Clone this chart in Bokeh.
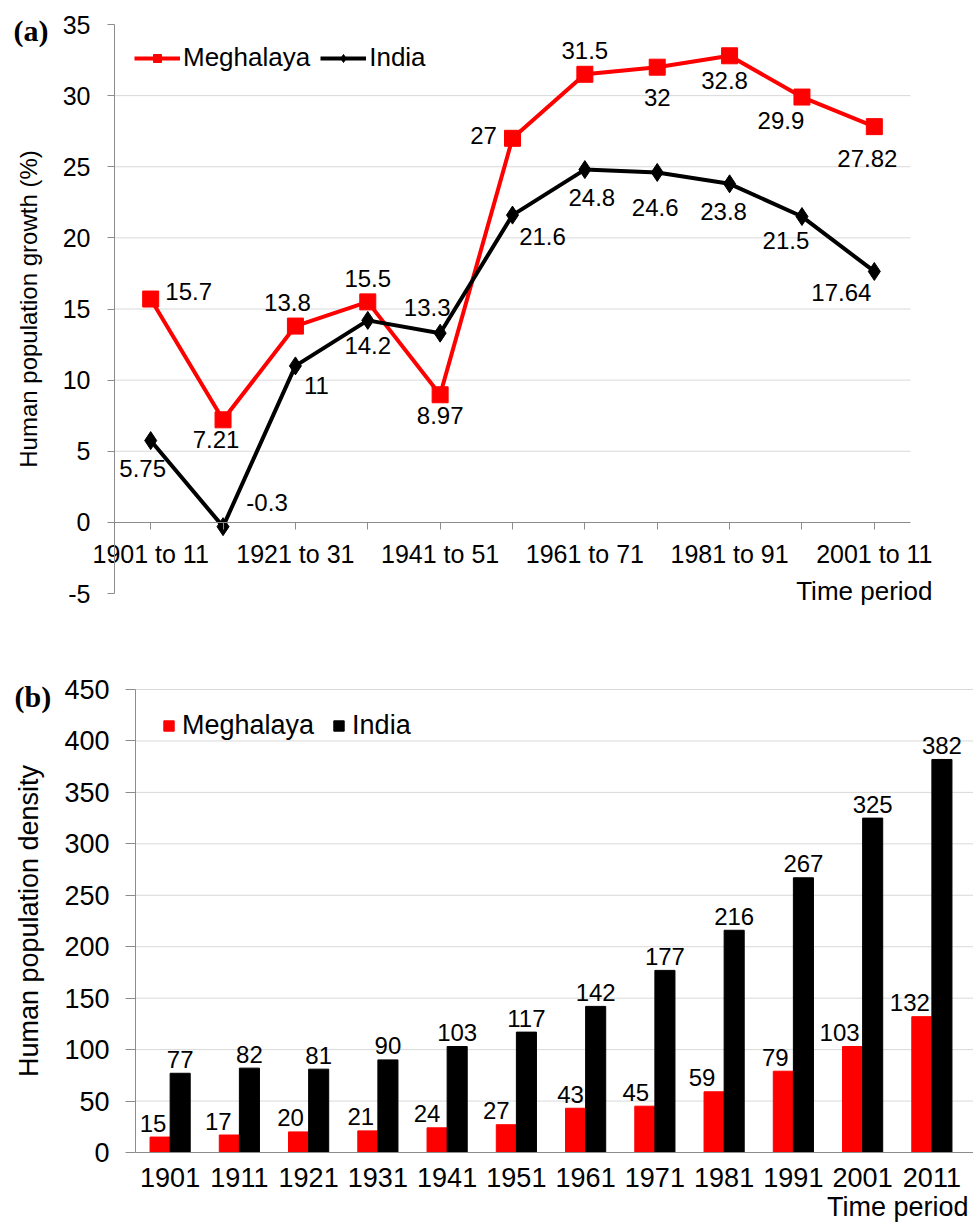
from bokeh.plotting import figure
from bokeh.models import FixedTicker, Label, Range1d, ColumnDataSource
from bokeh.layouts import column
from bokeh.embed import file_html
from bokeh.resources import INLINE

# ---------------- data ----------------
periods = ["1901 to 11", "1911 to 21", "1921 to 31", "1931 to 41", "1941 to 51",
           "1951 to 61", "1961 to 71", "1971 to 81", "1981 to 91", "1991 to 01",
           "2001 to 11"]
meg_growth = [15.7, 7.21, 13.8, 15.5, 8.97, 27, 31.5, 32, 32.8, 29.9, 27.82]
ind_growth = [5.75, -0.3, 11, 14.2, 13.3, 21.6, 24.8, 24.6, 23.8, 21.5, 17.64]

years = ["1901", "1911", "1921", "1931", "1941", "1951", "1961", "1971",
         "1981", "1991", "2001", "2011"]
meg_density = [15, 17, 20, 21, 24, 27, 43, 45, 59, 79, 103, 132]
ind_density = [77, 82, 81, 90, 103, 117, 142, 177, 216, 267, 325, 382]

growth_ticks = [-5, 0, 5, 10, 15, 20, 25, 30, 35]
density_ticks = [0, 50, 100, 150, 200, 250, 300, 350, 400, 450]

# label placement (pixel offsets, positive = down)
meg_dx = [38, -7, -8, 0, 0, -29, 0, 0, -5, -21, -7]
meg_dy = [-8, 20, -24, -23, 21, -3, -24, 30, 25, 23, 32]
ind_dx = [-8, 44, 21, 0, -13, 30, 7, -2, -6, -16, -33]
ind_dy = [28, -24, 20, 25, -26, 21, 28, 35, 28, 24, 21]
meg_bar_dx = [-7, -11, -8, -7, -10, -10, -5, -9, -12, -8, -13, -12]

FONT = "Liberation Sans"
SERIF = "Liberation Serif"
RED = "#FF0000"
BLACK = "#000000"
AXIS_GREY = "#8c8c8c"
GRID_GREY = "#d9d9d9"

W = 973


def frame_ranges(w, h, box_px, box_data):
    """Ranges so that the data box lands on the given pixel box of a
    figure whose frame is the whole canvas; returns px->data helpers too."""
    L, R, T, B = box_px
    x0, x1, y0, y1 = box_data
    sx = (R - L) / (x1 - x0)
    sy = (B - T) / (y1 - y0)
    xr = Range1d(x0 - L / sx, x1 + (w - R) / sx)
    yr = Range1d(y0 - (h - B) / sy, y1 + T / sy)
    return xr, yr, (lambda px: x0 + (px - L) / sx), (lambda py: y1 - (py - T) / sy)


def style_axis(ax, size, tick_out, standoff):
    ax.minor_tick_line_color = None
    ax.major_tick_out = tick_out
    ax.major_tick_in = 0
    ax.axis_line_color = AXIS_GREY
    ax.major_tick_line_color = AXIS_GREY if tick_out else None
    ax.major_label_text_font = FONT
    ax.major_label_text_font_size = size
    ax.major_label_text_color = BLACK
    ax.major_label_standoff = standoff


# ---------------- panel (a) ----------------
HA = 640
xs = list(range(len(periods)))
xr_a, yr_a, pxa, pya = frame_ranges(W, HA, (114, 910, 24, 593),
                                    (-0.5, len(periods) - 0.5, growth_ticks[0], growth_ticks[-1]))

src_a = ColumnDataSource(dict(
    x=xs, meg=meg_growth, ind=ind_growth,
    meg_txt=[f"{v:g}" for v in meg_growth], ind_txt=[f"{v:g}" for v in ind_growth],
    meg_dx=meg_dx, meg_dy=meg_dy, ind_dx=ind_dx, ind_dy=ind_dy))

pa = figure(width=W, height=HA, output_backend="svg", toolbar_location=None,
            x_range=xr_a, y_range=yr_a,
            min_border_left=0, min_border_right=0, min_border_top=0, min_border_bottom=0)
pa.outline_line_color = None
pa.xgrid.visible = False
pa.ygrid.visible = False

grid_a = growth_ticks[2:-1]
pa.segment(x0=[-0.5] * len(grid_a), x1=[len(periods) - 0.5] * len(grid_a),
           y0=grid_a, y1=grid_a, line_color=GRID_GREY, line_width=1)

xa = pa.xaxis[0]
xa.fixed_location = 0
xa.bounds = (-0.5, len(periods) - 0.5)
xa.ticker = FixedTicker(ticks=xs)
xa.major_label_overrides = {i: (periods[i] if i % 2 == 0 else "") for i in xs}
style_axis(xa, "25px", 7, 11)

ya = pa.yaxis[0]
ya.fixed_location = -0.5
ya.bounds = (growth_ticks[0], growth_ticks[-1])
ya.ticker = FixedTicker(ticks=growth_ticks)
ya.major_label_overrides = {t: str(t) for t in growth_ticks}
style_axis(ya, "25px", 7, 17)
ya.axis_label = "Human population growth (%)"
ya.axis_label_text_font = FONT
ya.axis_label_text_font_size = "24px"
ya.axis_label_text_font_style = "normal"
ya.axis_label_text_color = BLACK
ya.axis_label_standoff = 18

pa.line("x", "meg", source=src_a, line_width=4, color=RED, legend_label="Meghalaya")
pa.scatter("x", "meg", source=src_a, marker="square", size=16, color=RED,
           legend_label="Meghalaya")
pa.line("x", "ind", source=src_a, line_width=4, color=BLACK, legend_label="India")
pa.scatter("x", "ind", source=src_a, marker="diamond", size=18, color=BLACK,
           legend_label="India")

pa.text("x", "meg", text="meg_txt", source=src_a, x_offset="meg_dx", y_offset="meg_dy",
        text_align="center", text_baseline="middle", text_font_size="24px",
        text_color=BLACK, text_font={"value": FONT})
pa.text("x", "ind", text="ind_txt", source=src_a, x_offset="ind_dx", y_offset="ind_dy",
        text_align="center", text_baseline="middle", text_font_size="24px",
        text_color=BLACK, text_font={"value": FONT})

lg = pa.legend[0]
lg.location = (134, HA - 73)
lg.orientation = "horizontal"
lg.margin = 0
lg.padding = 0
lg.spacing = 10
lg.glyph_width = 46
lg.glyph_height = 20
lg.label_standoff = 3
lg.label_text_font = FONT
lg.label_text_font_size = "26px"
lg.label_text_color = BLACK
lg.border_line_color = None
lg.background_fill_alpha = 0

pa.add_layout(Label(x=pxa(13), y=pya(30), text="(a)", text_font=SERIF,
                    text_font_style="bold", text_font_size="30px", text_align="left",
                    text_baseline="middle", text_color=BLACK))
pa.add_layout(Label(x=pxa(932), y=pya(590), text="Time period", text_font=FONT,
                    text_font_size="26px", text_align="right", text_baseline="middle",
                    text_color=BLACK))

# ---------------- panel (b) ----------------
HB = 582
xb_pos = list(range(len(years)))
xr_b, yr_b, pxb, pyb = frame_ranges(W, HB, (135, 966, 49, 512),
                                    (-0.5, len(years) - 0.5, density_ticks[0], density_ticks[-1]))

bw = 0.29
src_b = ColumnDataSource(dict(
    x=xb_pos, xm=[v - bw / 2 for v in xb_pos], xi=[v + bw / 2 for v in xb_pos],
    meg=meg_density, ind=ind_density, meg_dx=meg_bar_dx,
    meg_txt=[str(v) for v in meg_density], ind_txt=[str(v) for v in ind_density]))

pb = figure(width=W, height=HB, output_backend="svg", toolbar_location=None,
            x_range=xr_b, y_range=yr_b,
            min_border_left=0, min_border_right=0, min_border_top=0, min_border_bottom=0)
pb.outline_line_color = None
pb.xgrid.visible = False
pb.ygrid.visible = False

grid_b = density_ticks[1:]
pb.segment(x0=[-0.5] * len(grid_b), x1=[len(years) - 0.5 + 0.1] * len(grid_b),
           y0=grid_b, y1=grid_b, line_color=GRID_GREY, line_width=1)

pb.vbar(x="xm", top="meg", width=bw, source=src_b, color=RED, legend_label="Meghalaya")
pb.vbar(x="xi", top="ind", width=bw, source=src_b, color=BLACK, legend_label="India")
pb.text(x="xm", y="meg", text="meg_txt", source=src_b,
        x_offset="meg_dx", y_offset=-14, text_align="center", text_baseline="alphabetic",
        text_font_size="24px", text_color=BLACK, text_font={"value": FONT})
pb.text(x="xi", y="ind", text="ind_txt", source=src_b,
        x_offset=0, y_offset=-14, text_align="center", text_baseline="alphabetic",
        text_font_size="24px", text_color=BLACK, text_font={"value": FONT})

xbx = pb.xaxis[0]
xbx.fixed_location = 0
xbx.bounds = (-0.5, len(years) - 0.5 + 0.1)
xbx.ticker = FixedTicker(ticks=xb_pos)
xbx.major_label_overrides = {i: years[i] for i in xb_pos}
style_axis(xbx, "27px", 0, 15)

yb = pb.yaxis[0]
yb.fixed_location = -0.5
yb.bounds = (density_ticks[0], density_ticks[-1])
yb.ticker = FixedTicker(ticks=density_ticks)
style_axis(yb, "27px", 10, 16)
yb.axis_label = "Human population density"
yb.axis_label_text_font = FONT
yb.axis_label_text_font_size = "27px"
yb.axis_label_text_font_style = "normal"
yb.axis_label_text_color = BLACK
yb.axis_label_standoff = 17

lb = pb.legend[0]
lb.location = (162, HB - 101)
lb.orientation = "horizontal"
lb.margin = 0
lb.padding = 0
lb.spacing = 18
lb.glyph_width = 13
lb.glyph_height = 13
lb.label_standoff = 7
lb.label_text_font = FONT
lb.label_text_font_size = "27px"
lb.label_text_color = BLACK
lb.border_line_color = None
lb.background_fill_alpha = 0

pb.add_layout(Label(x=pxb(14), y=pyb(56), text="(b)", text_font=SERIF,
                    text_font_style="bold", text_font_size="30px", text_align="left",
                    text_baseline="middle", text_color=BLACK))
pb.add_layout(Label(x=pxb(968), y=pyb(566), text="Time period", text_font=FONT,
                    text_font_size="27px", text_align="right", text_baseline="middle",
                    text_color=BLACK))

p = column(pa, pb, spacing=0)
open("out.html", "w").write(file_html(p, INLINE))
